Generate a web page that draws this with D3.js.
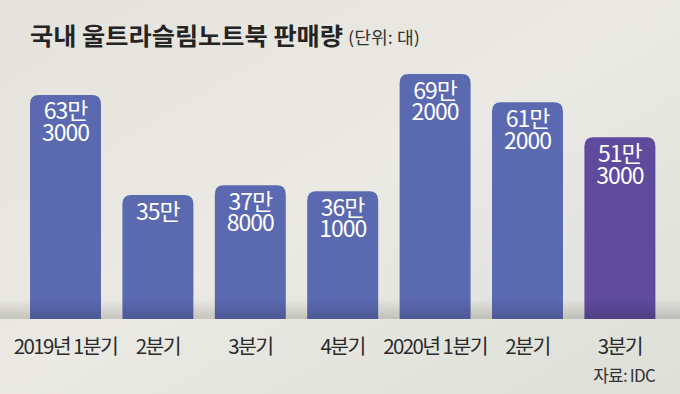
<!DOCTYPE html>
<html>
<head>
<meta charset="utf-8">
<script src="https://cdn.jsdelivr.net/npm/d3@7"></script>
<style>
  body { margin: 0; }
  svg { display: block; font-family: "Noto Sans CJK KR", "Noto Sans", sans-serif; }
</style>
</head>
<body>
<div id="chart"></div>
<script>
var width = 680;
var height = 394;

// 분기별 판매량 (대)
var quarters = ["2019년 1분기", "2분기", "3분기", "4분기", "2020년 1분기", "2분기", "3분기"];
var sales = [633000, 350000, 378000, 361000, 692000, 612000, 513000];
var valueLines = [["63만", "3000"], ["35만"], ["37만", "8000"], ["36만", "1000"], ["69만", "2000"], ["61만", "2000"], ["51만", "3000"]];

var baseY = 319;

var x = d3.scaleBand()
    .domain(d3.range(quarters.length))
    .range([19.3, 666.1])
    .paddingInner(0.232)
    .paddingOuter(0.116);

var y = d3.scaleLinear()
    .domain([0, 692000])
    .range([baseY, 74]);

var svg = d3.select("#chart")
    .append("svg")
    .attr("width", width)
    .attr("height", height);

var defs = svg.append("defs");

var bg = defs.append("linearGradient")
    .attr("id", "bg")
    .attr("x1", "0").attr("y1", "0").attr("x2", "1").attr("y2", "1");
bg.append("stop").attr("offset", "0%").attr("stop-color", "#e4e3dc");
bg.append("stop").attr("offset", "50%").attr("stop-color", "#eae9e3");
bg.append("stop").attr("offset", "100%").attr("stop-color", "#dedfd9");

var shade = defs.append("linearGradient")
    .attr("id", "shade")
    .attr("x1", "0").attr("y1", "0").attr("x2", "0").attr("y2", "1");
shade.append("stop").attr("offset", "0%").attr("stop-color", "#000").attr("stop-opacity", 0);
shade.append("stop").attr("offset", "100%").attr("stop-color", "#000").attr("stop-opacity", 0.16);

svg.append("rect")
    .attr("width", width)
    .attr("height", height)
    .attr("fill", "url(#bg)");

// 막대 (윗쪽 모서리만 둥글게)
function barPath(d, i) {
    var x0 = x(i), w = x.bandwidth(), y0 = y(d), r = 9;
    return "M" + x0 + "," + baseY +
        "V" + (y0 + r) +
        "Q" + x0 + "," + y0 + " " + (x0 + r) + "," + y0 +
        "H" + (x0 + w - r) +
        "Q" + (x0 + w) + "," + y0 + " " + (x0 + w) + "," + (y0 + r) +
        "V" + baseY + "Z";
}

svg.selectAll(".bar")
    .data(sales)
    .enter()
    .append("path")
    .attr("class", "bar")
    .attr("d", barPath)
    .attr("fill", (d, i) => i === sales.length - 1 ? "#5e4b9e" : "#5b69b0");

// 바닥 그림자
svg.append("rect")
    .attr("x", 0)
    .attr("y", baseY - 20)
    .attr("width", width)
    .attr("height", 20)
    .attr("fill", "url(#shade)");

// 막대 안 수치
svg.selectAll(".val")
    .data(sales)
    .enter()
    .append("text")
    .attr("class", "val")
    .attr("x", (d, i) => x(i) + x.bandwidth() / 2)
    .attr("y", d => y(d) + 24.5)
    .attr("text-anchor", "middle")
    .attr("fill", "#fff")
    .attr("font-size", 23)
    .attr("letter-spacing", -1)
    .each(function (d, i) {
        var t = d3.select(this);
        valueLines[i].forEach(function (s, k) {
            t.append("tspan")
                .attr("x", x(i) + x.bandwidth() / 2)
                .attr("dy", k === 0 ? 0 : 21.7)
                .text(s);
        });
    });

// 분기 라벨
svg.selectAll(".cat")
    .data(quarters)
    .enter()
    .append("text")
    .attr("class", "cat")
    .attr("x", (d, i) => x(i) + x.bandwidth() / 2)
    .attr("y", 353.5)
    .attr("text-anchor", "middle")
    .attr("fill", "#2b2b2b")
    .attr("font-size", 20.5)
    .attr("letter-spacing", -1.6)
    .text(d => d);

// 제목
svg.append("text")
    .attr("x", 30)
    .attr("y", 45)
    .attr("fill", "#242424")
    .attr("font-size", 24)
    .attr("font-weight", "bold")
    .attr("textLength", 313)
    .attr("lengthAdjust", "spacingAndGlyphs")
    .text("국내 울트라슬림노트북 판매량");

svg.append("text")
    .attr("x", 348)
    .attr("y", 44)
    .attr("fill", "#333")
    .attr("font-size", 17)
    .attr("textLength", 72)
    .attr("lengthAdjust", "spacingAndGlyphs")
    .text("(단위: 대)");

// 출처
svg.append("text")
    .attr("x", 655)
    .attr("y", 382)
    .attr("text-anchor", "end")
    .attr("fill", "#333")
    .attr("font-size", 17)
    .attr("letter-spacing", -0.8)
    .text("자료: IDC");
</script>
</body>
</html>
